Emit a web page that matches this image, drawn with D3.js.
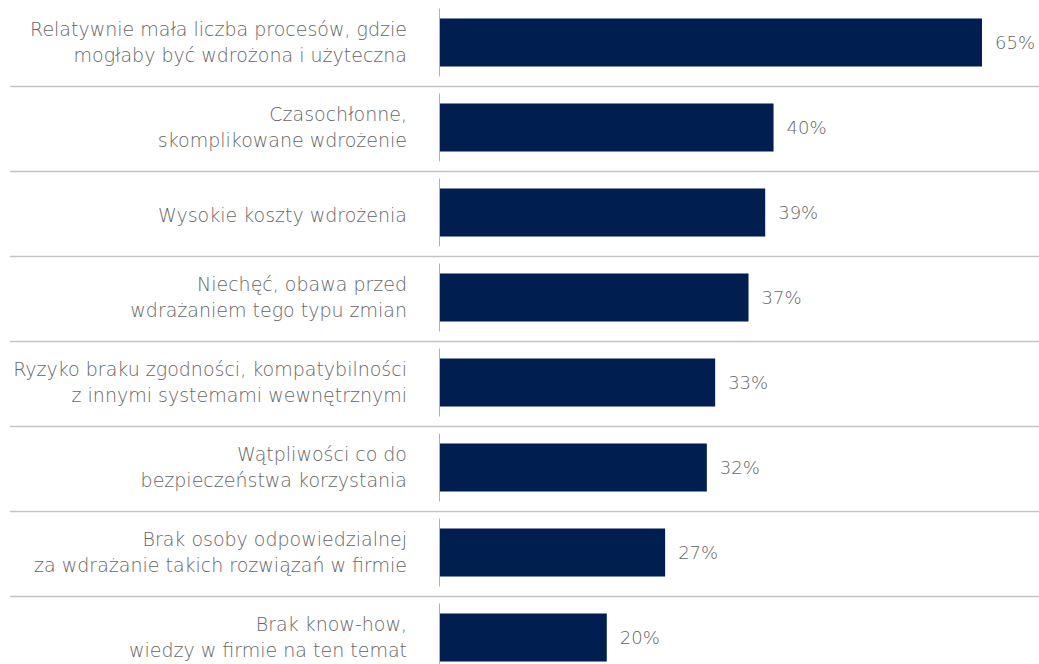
<!DOCTYPE html>
<html>
<head>
<meta charset="utf-8">
<script src="https://cdn.jsdelivr.net/npm/d3@7"></script>
<style>
  body { margin: 0; background: #fff; }
  text { font-family: "DejaVu Sans", "Open Sans", sans-serif; font-weight: 200; fill: #666; }
</style>
</head>
<body>
<div id="chart"></div>
<script>
// Chart data
var categories = [
  "Relatywnie mała liczba procesów, gdzie\nmogłaby być wdrożona i użyteczna",
  "Czasochłonne,\nskomplikowane wdrożenie",
  "Wysokie koszty wdrożenia",
  "Niechęć, obawa przed\nwdrażaniem tego typu zmian",
  "Ryzyko braku zgodności, kompatybilności\nz innymi systemami wewnętrznymi",
  "Wątpliwości co do\nbezpieczeństwa korzystania",
  "Brak osoby odpowiedzialnej\nza wdrażanie takich rozwiązań w firmie",
  "Brak know-how,\nwiedzy w firmie na ten temat"
];
var values = [65, 40, 39, 37, 33, 32, 27, 20];

var svgWidth = 1039;
var svgHeight = 664;
var chartMargin = { top: 0, left: 440 };

var svg = d3.select("#chart")
  .append("svg")
  .attr("width", svgWidth)
  .attr("height", svgHeight);

var chartGroup = svg.append("g")
  .attr("transform", `translate(${chartMargin.left}, ${chartMargin.top})`);

var xScale = d3.scaleLinear()
  .domain([0, 65])
  .range([0, 542]);

var yScale = d3.scaleBand()
  .domain(categories)
  .range([0, 680])
  .paddingInner(0.435)
  .paddingOuter(0.2175);

var step = yScale.step();
var bw = yScale.bandwidth();

// separators between categories
chartGroup.selectAll(".sep")
  .data(categories.slice(0, -1))
  .enter()
  .append("line")
  .attr("class", "sep")
  .attr("x1", 10 - chartMargin.left)
  .attr("x2", svgWidth - chartMargin.left)
  .attr("y1", d => yScale(d) + bw / 2 + step / 2 + 1.5)
  .attr("y2", d => yScale(d) + bw / 2 + step / 2 + 1.5)
  .attr("stroke", "#c4c4c4")
  .attr("stroke-width", 1.5);

// axis segments per band
chartGroup.selectAll(".axisSeg")
  .data(categories)
  .enter()
  .append("line")
  .attr("class", "axisSeg")
  .attr("x1", -0.5)
  .attr("x2", -0.5)
  .attr("y1", d => yScale(d) + bw / 2 - 34)
  .attr("y2", d => yScale(d) + bw / 2 + 34)
  .attr("stroke", "#b0b0b0")
  .attr("stroke-width", 1);

chartGroup.selectAll(".bar")
  .data(values)
  .enter()
  .append("rect")
  .attr("class", "bar")
  .attr("x", 0)
  .attr("y", (d, i) => yScale(categories[i]))
  .attr("width", d => xScale(d))
  .attr("height", bw)
  .attr("fill", "#001f50");

chartGroup.selectAll(".val")
  .data(values)
  .enter()
  .append("text")
  .attr("class", "val")
  .attr("x", d => xScale(d) + 13)
  .attr("y", (d, i) => yScale(categories[i]) + bw / 2)
  .attr("dy", "0.35em")
  .style("font-size", "18px")
  .text(d => d + "%");

// category labels, right aligned, one or two lines
var labels = chartGroup.selectAll(".cat")
  .data(categories)
  .enter()
  .append("text")
  .attr("class", "cat")
  .attr("text-anchor", "end")
  .style("font-size", "19px")
  .attr("transform", d => `translate(-33, ${yScale(d) + bw / 2})`);

labels.selectAll("tspan")
  .data(d => {
    var lines = d.split("\n");
    if (lines.length == 1) return [{ t: lines[0], off: 3 }];
    return lines.map((t, i) => ({ t: t, off: (i - (lines.length - 1) / 2) * 25.5 }));
  })
  .enter()
  .append("tspan")
  .attr("x", 0)
  .attr("y", d => d.off)
  .attr("dy", "0.35em")
  .text(d => d.t);
</script>
</body>
</html>
